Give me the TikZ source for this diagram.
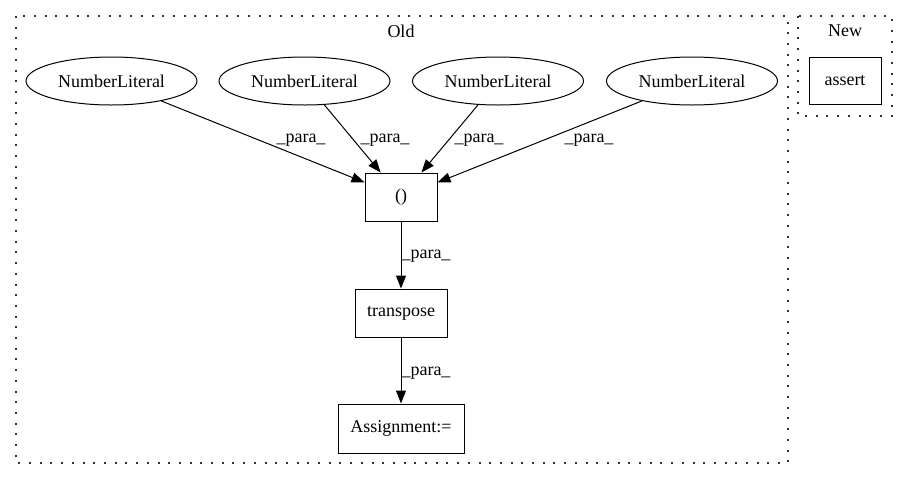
\documentclass[tikz,border=0pt]{standalone}
\usepackage{fontspec}
\setmainfont{Liberation Serif}
\usetikzlibrary{shapes.geometric,arrows.meta}
\begin{document}
\begin{tikzpicture}[x=1pt,y=-1pt,
  every node/.style={font=\fontsize{18}{20}\selectfont},
  lit/.style={draw,ellipse,line width=1pt,minimum width=171pt,minimum height=48pt,inner sep=0pt},
  box/.style={draw,rectangle,line width=1pt,minimum height=48pt,inner sep=0pt},
  cluster/.style={draw,line width=1.3pt,dash pattern=on 2pt off 8.7pt,gray!40!black},
  edge/.style={line width=1pt,-{Triangle[length=13pt,width=10pt]}},
  lbl/.style={inner sep=0pt}]
\useasboundingbox (0,0) rectangle (908,480);
\draw[cluster] (16,16) rectangle (788,463);
\draw[cluster] (798,16) rectangle (892,116);
\node[lbl] (oldlbl) at (401,31) {Old};
\node[lbl] (newlbl) at (845,31) {New};
\node[lit] (n1) at (111.5,81) {NumberLiteral};
\node[lit] (n2) at (304.5,81) {NumberLiteral};
\node[lit] (n3) at (498,81) {NumberLiteral};
\node[lit] (n4) at (692,81) {NumberLiteral};
\node[box,minimum width=72pt] (tup) at (401,197) {()};
\node[box,minimum width=92pt] (tr) at (401,313) {transpose};
\node[box,minimum width=126pt,minimum height=49pt] (as) at (401,428.5) {Assignment:=};
\node[box,minimum width=72pt,minimum height=47pt] (assert) at (845,80.5) {assert};
\draw[edge] (n1) -- (tup);
\draw[edge] (n2) -- (tup);
\draw[edge] (n3) -- (tup);
\draw[edge] (n4) -- (tup);
\draw[edge] (tup) -- (tr);
\draw[edge] (tr) -- (as);
\node[lbl] (l1) at (301,140) {\_para\_};
\node[lbl] (l2) at (385,140) {\_para\_};
\node[lbl] (l3) at (479,140) {\_para\_};
\node[lbl] (l4) at (589,140) {\_para\_};
\node[lbl] (l5) at (426,256) {\_para\_};
\node[lbl] (l6) at (426,373) {\_para\_};
\end{tikzpicture}
\end{document}
